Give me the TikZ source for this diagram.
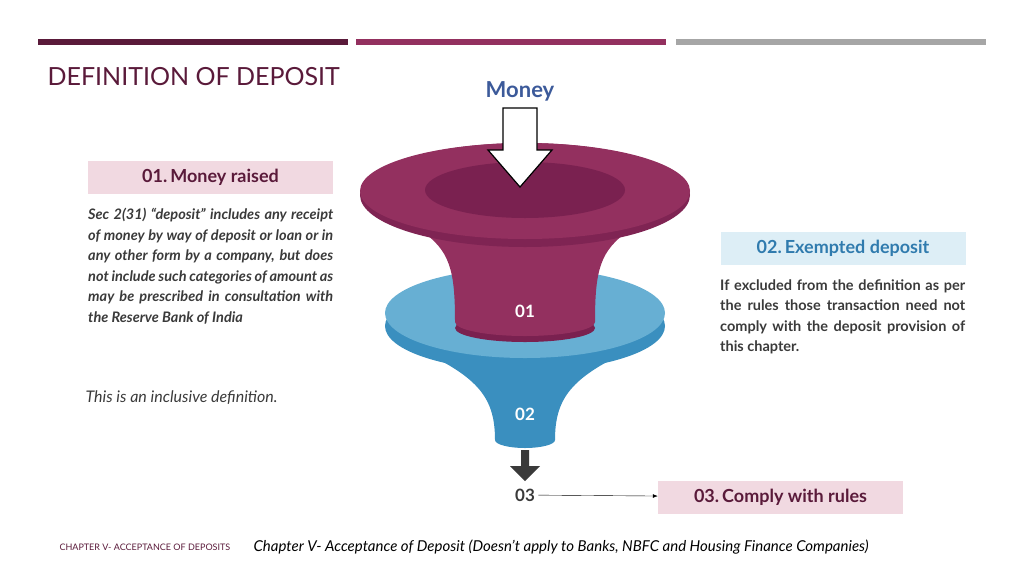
\documentclass[tikz,border=0pt]{standalone}
\usepackage{fontspec}
\setmainfont{Lato}
\usetikzlibrary{positioning,arrows.meta}
\definecolor{plum}{HTML}{5A1A3A}
\definecolor{berry}{HTML}{93305F}
\definecolor{berrydark}{HTML}{7A2150}
\definecolor{skyring}{HTML}{67AFD3}
\definecolor{skydark}{HTML}{3A8FBF}
\definecolor{moneyblue}{HTML}{3C5A9A}
\definecolor{pinkbox}{HTML}{F1D9E1}
\definecolor{bluebox}{HTML}{DDEEF6}
\definecolor{bodytext}{HTML}{3A3A3A}
\tikzset{
  labelbox/.style={minimum width=245pt, minimum height=33pt, inner sep=0pt,
    font=\fontsize{18}{20}\selectfont\bfseries},
  para/.style={text width=245pt, align=justify, inner sep=0pt, anchor=north west,
    text=bodytext, font=\fontsize{14.5}{20.5}\selectfont\bfseries},
  num/.style={text=white, font=\fontsize{17}{19}\selectfont\bfseries}
}
\begin{document}
\begin{tikzpicture}[x=1pt,y=-1pt]
  \useasboundingbox (0,0) rectangle (1024,576);
  % top bars
  \fill[plum] (38,39) rectangle (348,45);
  \fill[berry] (356,39) rectangle (666,45);
  \fill[gray!70] (676,39) rectangle (986,45);
  \node[anchor=west, text=plum, font=\fontsize{25}{28}\selectfont] (title) at (44,77) {DEFINITION OF DEPOSIT};
  \node[text=moneyblue, font=\fontsize{22}{24}\selectfont\bfseries] (money) at (520,91) {Money};

  % lower blue funnel
  \fill[skydark] (430,355) .. controls (480,380) and (495,400) .. (495,440)
     arc[start angle=180, end angle=0, x radius=30, y radius=8]
     .. controls (555,400) and (570,380) .. (620,355) -- cycle;
  % blue ring
  \fill[skydark] (525,326) ellipse[x radius=140, y radius=45];
  \fill[skyring] (525,313) ellipse[x radius=140, y radius=45];
  % magenta neck
  \fill[berrydark] (525,328) ellipse[x radius=70, y radius=14];
  \fill[berry] (420,230) .. controls (450,250) and (455,270) .. (455,322)
     arc[start angle=180, end angle=0, x radius=70, y radius=14]
     .. controls (595,270) and (600,250) .. (630,230) -- cycle;
  \fill[berrydark!80!berry] (525,195) ellipse[x radius=165, y radius=52];
  \fill[berry] (525,191) ellipse[x radius=165, y radius=48];
  \fill[berrydark] (525,190) ellipse[x radius=100, y radius=28];
  % white arrow
  \draw[fill=white, line width=1.2pt] (503,108) -- (537,108) -- (537,150) -- (552,150)
     -- (520,187) -- (488,150) -- (503,150) -- cycle;

  \node[num] (n01) at (525,311) {01};
  \node[num] (n02) at (525,414) {02};
  \fill[bodytext] (521,450) rectangle (529,466) (510,466) -- (540,466) -- (525,481) -- cycle;
  \node[text=bodytext, font=\fontsize{17}{19}\selectfont\bfseries] (n03) at (525,495) {03};

  % boxes
  \node[labelbox, fill=pinkbox, text=plum] (raised) at (210.5,177) {01.\,Money raised};
  \node[labelbox, fill=bluebox, text=moneyblue!80!cyan] (exempt) at (843,248) {02.\,Exempted deposit};
  \node[labelbox, fill=pinkbox, text=plum] (comply) at (780.5,497) {03.\,Comply with rules};
  \draw[-{Latex[length=5pt]}] (n03) -- (comply);

  \node[para, font=\fontsize{14.5}{20.5}\selectfont\bfseries\itshape] (sec) at (88,208)
    {Sec 2(31) “deposit” includes any receipt of money by way of deposit or loan or in any other form by a company, but does not include such categories of amount as may be prescribed in consultation with the Reserve Bank of India};
  \node[anchor=west, text=bodytext, font=\fontsize{16}{18}\selectfont\itshape] (incl) at (82,398) {This is an inclusive definition.};
  \node[para] (excl) at (720,279)
    {If excluded from the definition as per the rules those transaction need not comply with the deposit provision of this chapter.};

  % footer
  \node[anchor=west, text=plum, font=\fontsize{9}{11}\selectfont] (foot) at (56,547) {CHAPTER V- ACCEPTANCE OF DEPOSITS};
  \node[anchor=west, text=black, font=\fontsize{15}{18}\selectfont\itshape] (chap) at (250,547)
    {Chapter V- Acceptance of Deposit (Doesn’t apply to Banks, NBFC and Housing Finance Companies)};
\end{tikzpicture}
\end{document}
